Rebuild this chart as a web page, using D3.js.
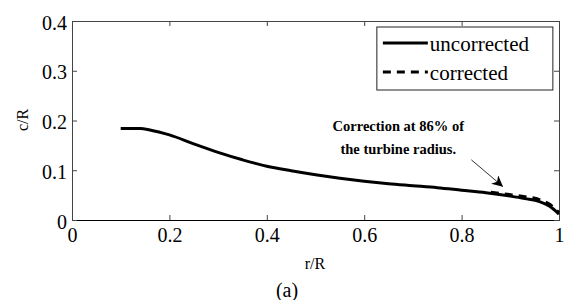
<!DOCTYPE html>
<html>
  <head>
    <style>
      body { margin: 0; background: #fff; }
      svg { font-family: 'Liberation Serif', 'Times New Roman', serif; }
    </style>
  </head>
  <body>
    <div class="chart"></div>
    <script src="https://d3js.org/d3.v7.min.js"></script>
    <script>
      // chord distribution, c/R against r/R
      var rUncorr = [0.10, 0.14, 0.16, 0.20, 0.25, 0.30, 0.35, 0.40, 0.45, 0.50, 0.55, 0.60, 0.65, 0.70, 0.75, 0.80, 0.85, 0.90, 0.93, 0.96, 0.98, 1.00];
      var cUncorr = [0.184, 0.184, 0.181, 0.171, 0.153, 0.136, 0.121, 0.108, 0.099, 0.091, 0.084, 0.078, 0.073, 0.069, 0.065, 0.060, 0.055, 0.048, 0.043, 0.037, 0.028, 0.012];
      var rCorr = [0.86, 0.90, 0.93, 0.96, 0.98, 1.00];
      var cCorr = [0.056, 0.051, 0.047, 0.041, 0.032, 0.015];
      var xTicks = [0, 0.2, 0.4, 0.6, 0.8, 1];
      var yTicks = [0, 0.1, 0.2, 0.3, 0.4];
      var legendLabels = ['uncorrected', 'corrected'];
      var note = ['Correction at 86% of', 'the turbine radius.'];

      var serif = "'Liberation Serif', 'Times New Roman', serif";
      var margin = {top: 21, right: 8, bottom: 80, left: 72},
          width = 567 - margin.left - margin.right,
          height = 300 - margin.top - margin.bottom;

      var svg = d3.select('.chart').append('svg')
          .attr('width', 567)
          .attr('height', 300);

      var g = svg.append('g')
          .attr('transform', 'translate(' + margin.left + ',' + margin.top + ')');

      var x = d3.scaleLinear().domain([0, 1]).range([0, width]);
      var y = d3.scaleLinear().domain([0, 0.4]).range([height, 0]);

      // box axes with inward ticks (matlab style)
      var fmt = function(d) { return String(d); };
      var gX = g.append('g').attr('transform', 'translate(0,' + height + ')')
          .call(d3.axisBottom(x).tickValues(xTicks).tickSize(-5).tickPadding(8).tickFormat(fmt));
      var gY = g.append('g')
          .call(d3.axisLeft(y).tickValues(yTicks).tickSize(-5).tickPadding(5).tickFormat(fmt));
      g.append('g').call(d3.axisTop(x).tickValues(xTicks).tickSize(-5).tickFormat(''));
      g.append('g').attr('transform', 'translate(' + width + ',0)')
          .call(d3.axisRight(y).tickValues(yTicks).tickSize(-5).tickFormat(''));
      g.selectAll('.domain').attr('stroke', '#444');
      gX.select('.domain').attr('stroke', '#000');
      g.selectAll('.tick line').attr('stroke', '#444');
      [gX, gY].forEach(function(ax) {
        ax.attr('font-family', serif).attr('font-size', 20);
        ax.selectAll('.tick text').style('font-family', serif).attr('fill', '#000');
      });
      gY.selectAll('.tick text').attr('dy', '0.4em');
      gX.selectAll('.tick text').attr('dy', '0.7em');

      var line = d3.line()
          .x(function(d) { return x(d[0]); })
          .y(function(d) { return y(d[1]); })
          .curve(d3.curveMonotoneX);

      g.append('path')
          .datum(d3.zip(rUncorr, cUncorr))
          .attr('fill', 'none')
          .attr('stroke', '#000')
          .attr('stroke-width', 3)
          .attr('d', line);

      g.append('path')
          .datum(d3.zip(rCorr, cCorr))
          .attr('fill', 'none')
          .attr('stroke', '#000')
          .attr('stroke-width', 3)
          .attr('stroke-dasharray', '8,6')
          .attr('d', line);

      // legend
      var lg = g.append('g').attr('transform', 'translate(' + (x(0.626)) + ',' + 6 + ')');
      lg.append('rect')
          .attr('width', 176).attr('height', 63)
          .attr('fill', '#fff').attr('stroke', '#222').attr('stroke-width', 1);
      lg.selectAll('line.key')
          .data(legendLabels).enter()
          .append('line')
          .attr('class', 'key')
          .attr('x1', 6).attr('x2', 51)
          .attr('y1', function(d, i) { return 16 + i * 29; })
          .attr('y2', function(d, i) { return 16 + i * 29; })
          .attr('stroke', '#000').attr('stroke-width', 3)
          .attr('stroke-dasharray', function(d, i) { return i ? '8,6' : null; });
      lg.selectAll('text')
          .data(legendLabels).enter()
          .append('text')
          .attr('x', 53)
          .attr('y', function(d, i) { return 24 + i * 29; })
          .attr('font-size', 21)
          .text(function(d) { return d; });

      // annotation
      g.selectAll('text.note')
          .data(note).enter()
          .append('text')
          .attr('class', 'note')
          .attr('x', x(0.67))
          .attr('y', function(d, i) { return 110 + i * 23; })
          .attr('text-anchor', 'middle')
          .attr('font-size', 14.5)
          .attr('font-weight', 'bold')
          .text(function(d) { return d; });

      svg.append('defs').append('marker')
          .attr('id', 'head')
          .attr('viewBox', '0 0 10 10')
          .attr('refX', 10).attr('refY', 5)
          .attr('markerWidth', 18).attr('markerHeight', 11)
          .attr('markerUnits', 'userSpaceOnUse')
          .attr('orient', 'auto')
          .append('path').attr('d', 'M0,0L10,5L0,10L3,5z').attr('fill', '#000');
      g.append('line')
          .attr('x1', x(0.82)).attr('y1', y(0.121))
          .attr('x2', x(0.885)).attr('y2', y(0.067))
          .attr('stroke', '#000').attr('stroke-width', 0.8)
          .attr('marker-end', 'url(#head)');

      // axis titles
      svg.append('text')
          .attr('x', 315).attr('y', 269)
          .attr('text-anchor', 'middle')
          .attr('font-size', 16)
          .text('r/R');
      svg.append('text')
          .attr('transform', 'translate(28,120) rotate(-90)')
          .attr('text-anchor', 'middle')
          .attr('font-size', 16)
          .text('c/R');
      svg.append('text')
          .attr('x', 287).attr('y', 297)
          .attr('text-anchor', 'middle')
          .attr('font-size', 20)
          .text('(a)');
    </script>
  </body>
</html>
